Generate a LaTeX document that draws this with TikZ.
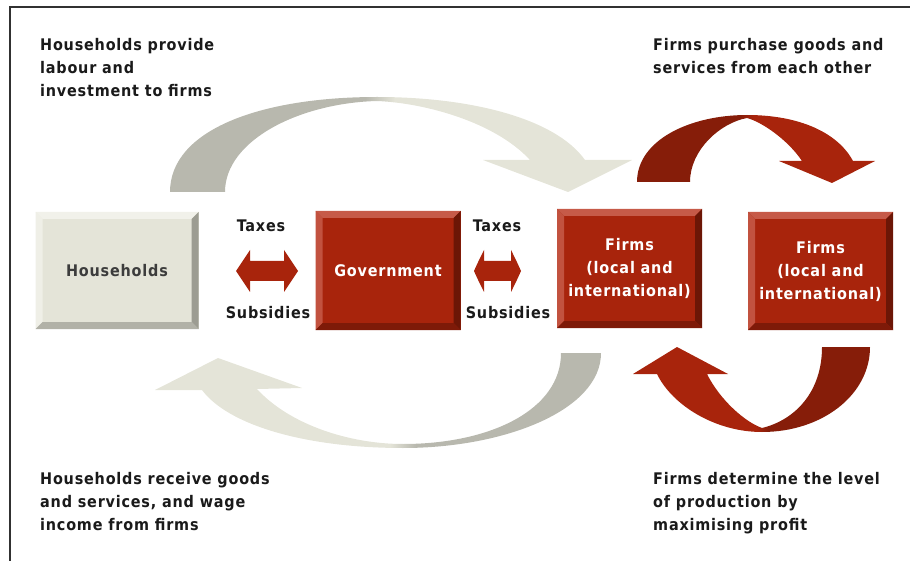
\documentclass[tikz,border=0pt]{standalone}
\usepackage{fontspec}
\newfontfamily\lblfont[LetterSpace=5]{DejaVu Sans Condensed}
\definecolor{redface}{HTML}{A8240C}
\definecolor{redlight}{HTML}{C65A48}
\definecolor{reddark}{HTML}{6C1606}
\definecolor{redarrowdark}{HTML}{861D09}
\definecolor{grayface}{HTML}{E4E4D8}
\definecolor{graylight}{HTML}{F1F1EA}
\definecolor{graydark}{HTML}{9C9C92}
\definecolor{grayarrowdark}{HTML}{B8B8AE}
\definecolor{txt}{HTML}{1A1A1A}
\tikzset{
  bevelbox/.style n args={3}{fill=#1, inner sep=0pt,
    path picture={
      \coordinate (@nw) at (path picture bounding box.north west);
      \coordinate (@ne) at (path picture bounding box.north east);
      \coordinate (@sw) at (path picture bounding box.south west);
      \coordinate (@se) at (path picture bounding box.south east);
      \fill[#2] (@nw) -- (@ne) -- ([shift={(-7pt,-7pt)}]@ne) -- ([shift={(7pt,-7pt)}]@nw) -- cycle;
      \fill[#2!85!#1] (@nw) -- (@sw) -- ([shift={(7pt,7pt)}]@sw) -- ([shift={(7pt,-7pt)}]@nw) -- cycle;
      \fill[#3] (@ne) -- (@se) -- ([shift={(-7pt,7pt)}]@se) -- ([shift={(-7pt,-7pt)}]@ne) -- cycle;
      \fill[#3!70!#1] (@sw) -- (@se) -- ([shift={(-7pt,7pt)}]@se) -- ([shift={(7pt,7pt)}]@sw) -- cycle;
    }},
  redbox/.style={bevelbox={redface}{redlight}{reddark}, text=white, font=\lblfont\bfseries\fontsize{16}{23}\selectfont, align=center},
  graybox/.style={bevelbox={grayface}{graylight}{graydark}, text=txt!85, font=\lblfont\bfseries\fontsize{16}{23}\selectfont, align=center},
  caption/.style={text=txt, font=\lblfont\bfseries\fontsize{16}{23}\selectfont, align=left, anchor=north west, inner sep=0pt},
  flowlbl/.style={text=txt, font=\lblfont\bfseries\fontsize{16}{23}\selectfont, inner sep=0pt, anchor=north},
}
\begin{document}
\begin{tikzpicture}[x=1pt,y=-1pt]
\useasboundingbox (0,0) rectangle (910,561);
% frame
\draw[line width=1.8pt, color=txt!90] (10,561) -- (10,7) -- (910,7);

% boxes
\node[graybox, minimum width=163pt, minimum height=117pt] (hh) at (117,270.5) {Households};
\node[redbox, minimum width=145pt, minimum height=119pt] (gov) at (388,270.5) {Government};
\node[redbox, minimum width=145pt, minimum height=119pt] (f1) at (629.5,268.5) {Firms\\(local and\\international)};
\node[redbox, minimum width=145pt, minimum height=118pt] (f2) at (820.5,271) {Firms\\(local and\\international)};

% captions
\node[caption] (c1) at (40,38) {Households provide\\labour and\\investment to firms};
\node[caption] (c2) at (653,38) {Firms purchase goods and\\services from each other};
\node[caption] (c3) at (40,472) {Households receive goods\\and services, and wage\\income from firms};
\node[caption] (c4) at (653,472) {Firms determine the level\\of production by\\maximising profit};

% tax labels
\node[flowlbl] (t1) at (261,220) {Taxes};
\node[flowlbl] (s1) at (268,306) {Subsidies};
\node[flowlbl] (t2) at (497,220) {Taxes};
\node[flowlbl] (s2) at (508,306) {Subsidies};

% double arrows
\coordinate (da1l) at (236,271);
\coordinate (da1r) at (298,271);
\fill[redface] (da1l) .. controls (242,262) and (246,256) .. (250,250) -- (250,261) -- (284,261) -- (284,250)
  .. controls (288,256) and (292,262) .. (da1r) .. controls (292,280) and (288,286) .. (284,292) -- (284,281) -- (250,281) -- (250,292)
  .. controls (246,286) and (242,280) .. (da1l) -- cycle;
\coordinate (da2l) at (474,271);
\coordinate (da2r) at (521,271);
\fill[redface] (da2l) .. controls (478,262) and (481,256) .. (484,250) -- (484,261) -- (511,261) -- (511,250)
  .. controls (514,256) and (517,262) .. (da2r) .. controls (517,280) and (514,286) .. (511,292) -- (511,281) -- (484,281) -- (484,292)
  .. controls (481,286) and (478,280) .. (da2l) -- cycle;

% curved arrows
\def\arrowTopGray{(170,192) .. controls (170,130) and (260,97) .. (377,97) .. controls (470,97) and (555,118) .. (585,160)
  -- (632,160) -- (568,192) -- (483,160) -- (530,160) .. controls (495,122) and (425,103) .. (377,101)
  .. controls (300,103) and (225,140) .. (225,192) -- cycle}
\def\arrowTopRed{(637,182) .. controls (637,140) and (690,115) .. (747,115) .. controls (800,115) and (838,133) .. (853,161)
  -- (875,161) -- (832,183) -- (779,161) -- (802,161) .. controls (788,140) and (762,122) .. (747,118)
  .. controls (720,123) and (690,150) .. (690,182) -- cycle}
\def\arrowBotGray{(601,353) .. controls (601,410) and (505,448) .. (403,448) .. controls (305,448) and (228,425) .. (202,390)
  -- (155,390) -- (218,358) -- (302,388) -- (257,389) .. controls (290,425) and (350,444) .. (403,444)
  .. controls (490,444) and (561,410) .. (561,353) -- cycle}
\def\arrowBotRed{(870,347) .. controls (870,395) and (822,432) .. (762,432) .. controls (715,432) and (672,405) .. (657,374)
  -- (633,374) -- (677,347) -- (728,374) -- (707,374) .. controls (720,400) and (745,422) .. (762,428)
  .. controls (795,420) and (822,392) .. (822,347) -- cycle}

\begin{scope}
  \clip \arrowTopGray;
  \fill[grayarrowdark] (150,90) rectangle (365,200);
  \shade[left color=grayarrowdark, right color=grayface] (365,90) rectangle (395,200);
  \fill[grayface] (395,90) rectangle (650,200);
\end{scope}
\begin{scope}
  \clip \arrowTopRed;
  \fill[redarrowdark] (630,110) rectangle (740,190);
  \shade[left color=redarrowdark, right color=redface] (740,110) rectangle (754,190);
  \fill[redface] (754,110) rectangle (880,190);
\end{scope}
\begin{scope}
  \clip \arrowBotGray;
  \fill[grayface] (150,345) rectangle (390,455);
  \shade[left color=grayface, right color=grayarrowdark] (390,345) rectangle (416,455);
  \fill[grayarrowdark] (416,345) rectangle (610,455);
\end{scope}
\begin{scope}
  \clip \arrowBotRed;
  \fill[redface] (625,340) rectangle (756,440);
  \shade[left color=redface, right color=redarrowdark] (756,340) rectangle (768,440);
  \fill[redarrowdark] (768,340) rectangle (880,440);
\end{scope}
\end{tikzpicture}
\end{document}
